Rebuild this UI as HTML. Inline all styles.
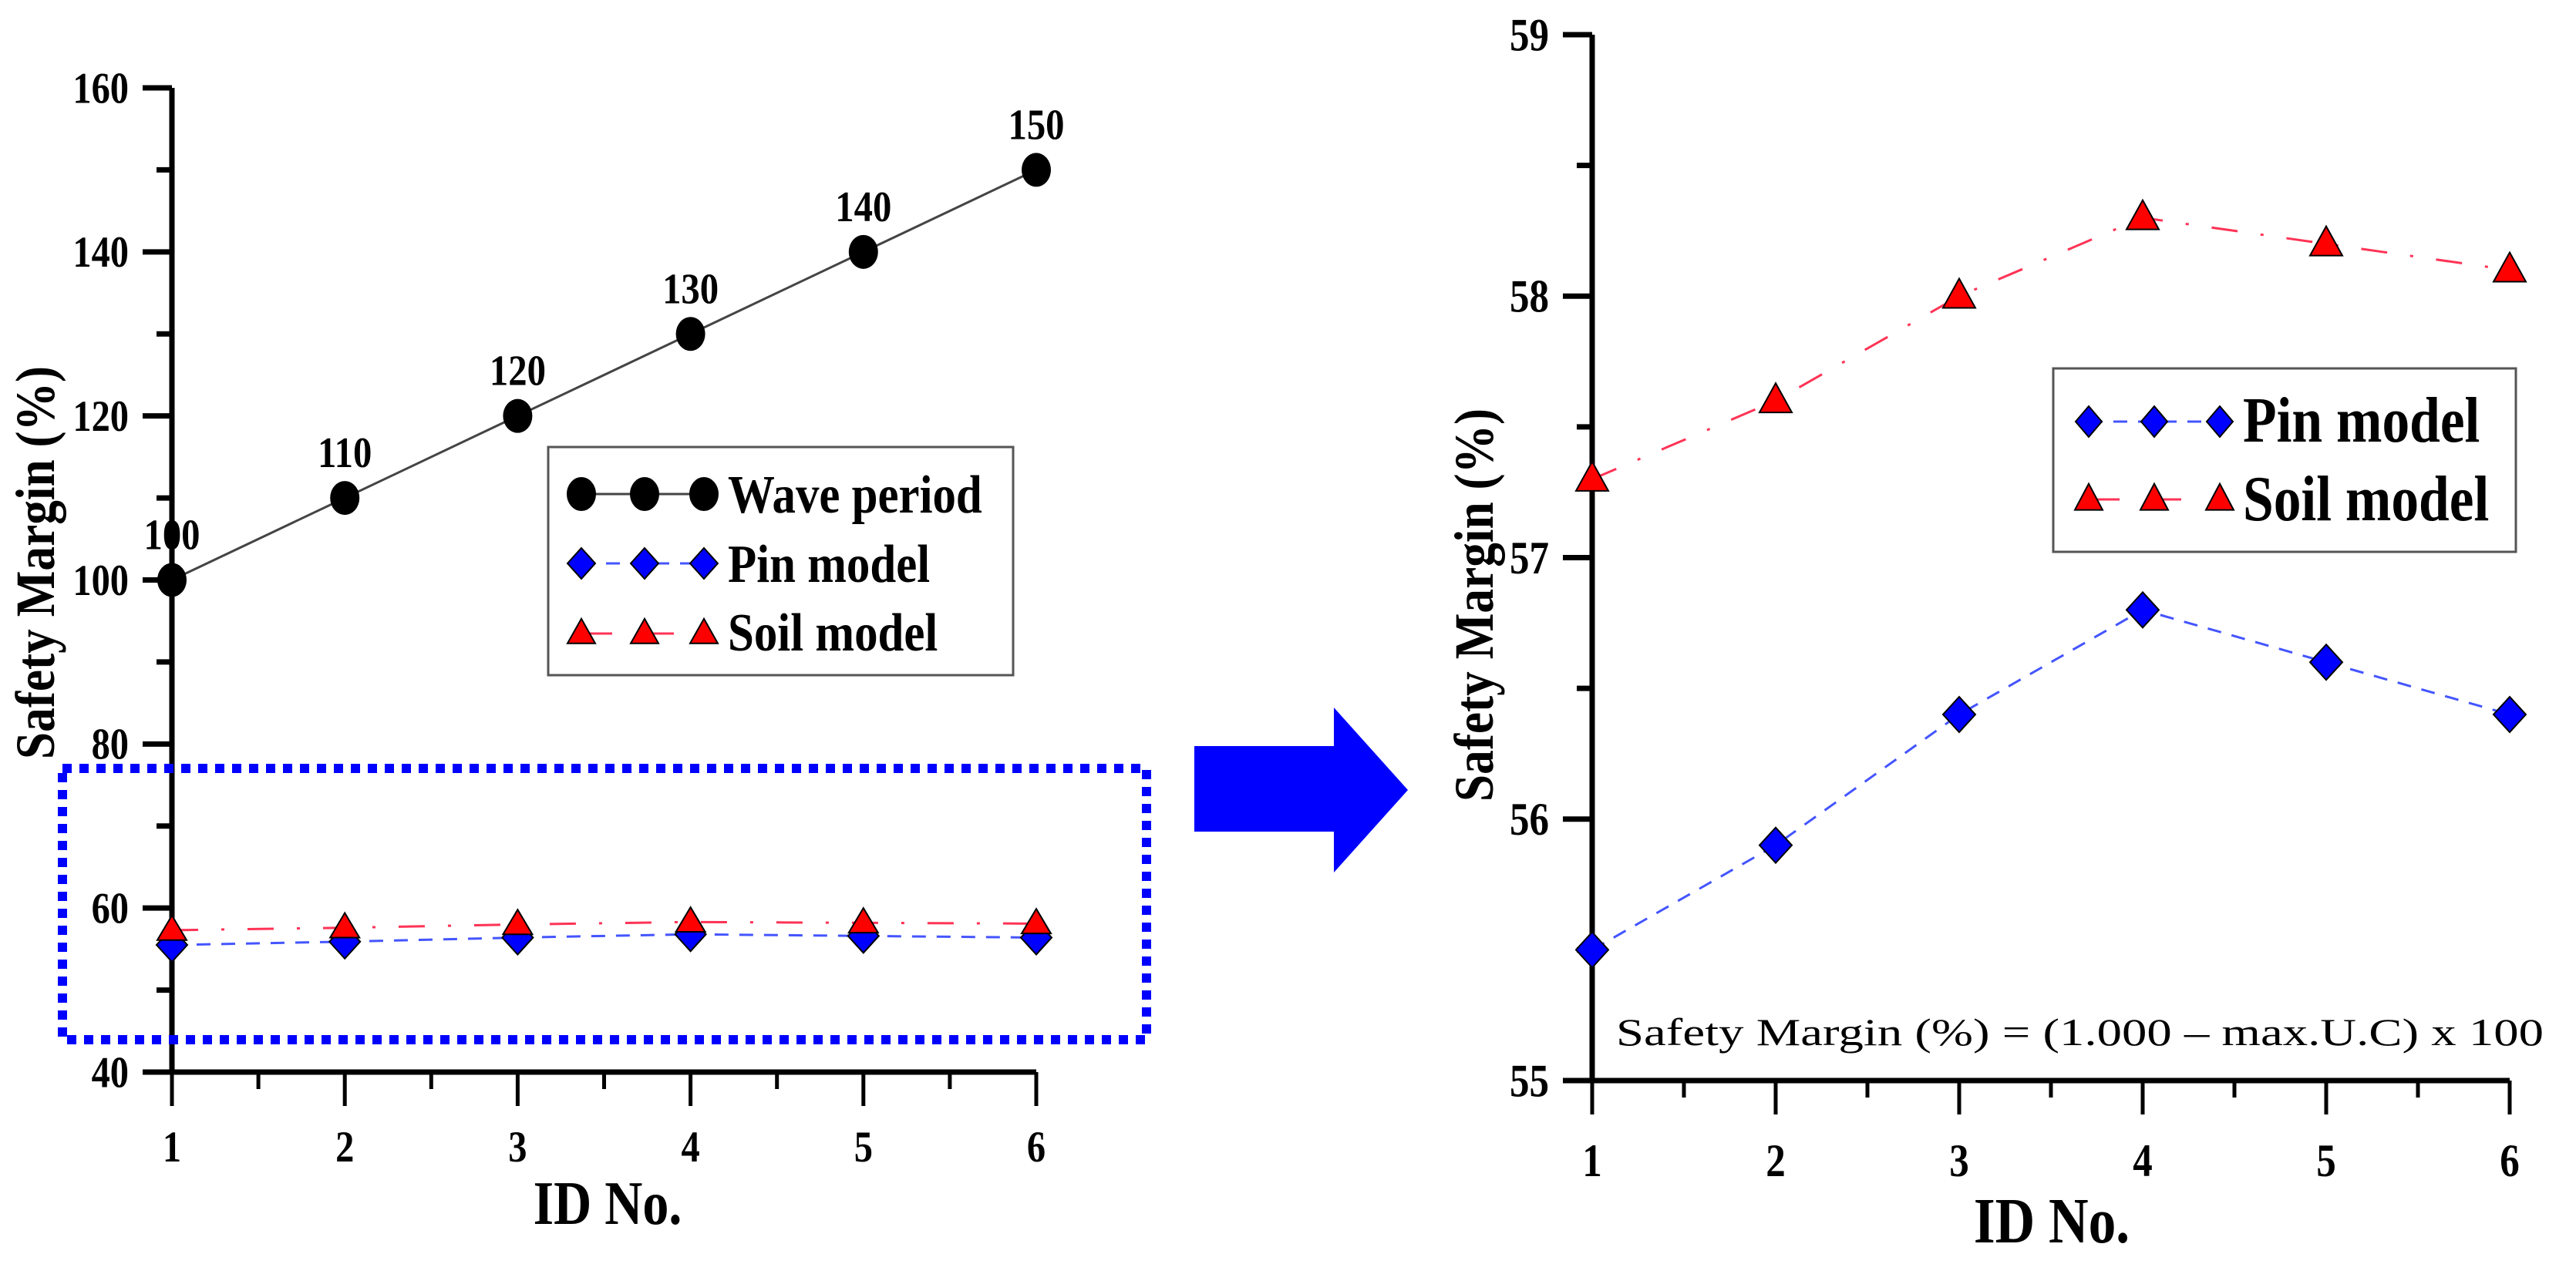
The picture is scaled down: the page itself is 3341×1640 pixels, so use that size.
<!DOCTYPE html>
<html><head><meta charset="utf-8"><style>
html,body{margin:0;padding:0;background:#fff;font-family:"Liberation Serif","Times New Roman",serif;}
svg{display:block;}
svg text{font-family:"Liberation Serif","Times New Roman",serif;}
</style></head><body>
<svg id="svg" width="3341" height="1640" viewBox="0 0 3341 1640" xmlns="http://www.w3.org/2000/svg" font-family="Liberation Serif, serif">
<rect x="0" y="0" width="3341" height="1640" fill="#fff"/>
<g id="left"></g>
<g id="right"></g>
<rect x="81" y="997" width="1406" height="352" fill="none" stroke="#0000ff" stroke-width="12" stroke-dasharray="12 10"/>
<polygon points="1549,968 1730,968 1730,918 1826,1025 1730,1132 1730,1079 1549,1079" fill="#0000ff"/>
</svg>
<script>
const categories = [1, 2, 3, 4, 5, 6];
const waveValues = [100, 110, 120, 130, 140, 150];
const pinValues = [55.5, 55.9, 56.4, 56.8, 56.6, 56.4];
const soilValues = [57.3, 57.6, 58.0, 58.3, 58.2, 58.1];
const leftYTicks = [40, 60, 80, 100, 120, 140, 160];
const rightYTicks = [55, 56, 57, 58, 59];

const NS = "http://www.w3.org/2000/svg";
const FONT = '"Liberation Serif", "Times New Roman", serif';
function mk(parent, tag, attrs){
  const e = document.createElementNS(NS, tag);
  for (const k in attrs) e.setAttribute(k, attrs[k]);
  parent.appendChild(e);
  return e;
}
function txt(parent, x, y, s, size, weight, anchor, sx, name){
  const t = mk(parent, 'text', {transform:`translate(${x},${y}) scale(${sx},1)`, 'font-size':size, 'font-weight':weight, 'text-anchor':anchor, fill:'#000', 'font-family':FONT});
  
  
  t.textContent = s;
  return t;
}
function diamond(p, x, y, hw, hh, name){
  const e = mk(p, 'polygon', {points:`${x},${y-hh} ${x+hw},${y} ${x},${y+hh} ${x-hw},${y}`, fill:'#0000ff', stroke:'#000', 'stroke-width':2});
  
  
}
function tri(p, x, y, hw, h, name){
  const e = mk(p, 'polygon', {points:`${x},${y-h*0.6} ${x+hw},${y+h*0.4} ${x-hw},${y+h*0.4}`, fill:'#ff0000', stroke:'#000', 'stroke-width':2});
  
  
}
function circ(p, x, y, name){
  const e = mk(p, 'ellipse', {cx:x, cy:y, rx:19, ry:22, fill:'#000'});
  
  
}
function polyline(p, xs, ys, stroke, dash, name){
  const pts = xs.map((x,i)=>x+','+ys[i]).join(' ');
  const e = mk(p, 'polyline', {points:pts, fill:'none', stroke:stroke, 'stroke-width':3, 'stroke-dasharray':dash});
  
  
}

function axes(g, cfg){
  const {x0, x1, y0, y1, ymin, ymax, yticks, minorStep, fs} = cfg;
  const X = c => x0 + (c - categories[0]) / (categories[categories.length-1] - categories[0]) * (x1 - x0);
  const Y = v => y0 - (v - ymin) / (ymax - ymin) * (y0 - y1);
  const ax = mk(g, 'path', {d:`M${x0},${y1} L${x0},${y0} L${x1},${y0}`, fill:'none', stroke:'#000', 'stroke-width':7});
  
  
  yticks.forEach(v=>{
    const l = mk(g, 'line', {x1:x0-38, x2:x0, y1:Y(v), y2:Y(v), stroke:'#000', 'stroke-width':7});
    
    
    txt(g, x0-56, Y(v)+fs*0.34, String(v), fs, 'bold', 'end', 0.85, 'y-tick-label');
  });
  for (let v = ymin + minorStep; v < ymax; v += minorStep*2){
    const l = mk(g, 'line', {x1:x0-20, x2:x0, y1:Y(v), y2:Y(v), stroke:'#000', 'stroke-width':7});
    
    
  }
  categories.forEach((c,i)=>{
    const l = mk(g, 'line', {x1:X(c), x2:X(c), y1:y0, y2:y0+44, stroke:'#000', 'stroke-width':5});
    
    
    txt(g, X(c), cfg.xlabY, String(c), fs, 'bold', 'middle', 0.85, 'x-tick-label');
    if (i < categories.length-1){
      const m = mk(g, 'line', {x1:X(c+0.5), x2:X(c+0.5), y1:y0, y2:y0+22, stroke:'#000', 'stroke-width':5});
      
      
    }
  });
  txt(g, cfg.titleX, cfg.titleY, 'ID No.', cfg.tfs, 'bold', 'middle', 0.85, 'x-axis-title');
  const yt = mk(g, 'text', {transform:`translate(${cfg.ylabX},${cfg.ylabY}) rotate(-90) scale(0.88,1)`, 'font-size':72, 'font-weight':'bold', 'text-anchor':'middle', 'font-family':FONT});
  
  
  yt.textContent = 'Safety Margin (%)';
  return {X, Y};
}

const PIN_DASH = '18 14';
const SOIL_DASH = '34 30 4 30';

// LEFT
const L = document.getElementById('left');
const la = axes(L, {x0:223, x1:1344, y0:1391, y1:114, ymin:40, ymax:160, yticks:leftYTicks, minorStep:10, fs:57, xlabY:1507, titleX:788, titleY:1588, tfs:80, ylabX:70, ylabY:730});
polyline(L, categories.map(la.X), waveValues.map(la.Y), '#444', 'none', 'wave-period-line');
polyline(L, categories.map(la.X), soilValues.map(la.Y), '#ff3355', SOIL_DASH, 'soil-model-line');
polyline(L, categories.map(la.X), pinValues.map(la.Y), '#4455ff', PIN_DASH, 'pin-model-line');
categories.forEach((c,i)=>{
  circ(L, la.X(c), la.Y(waveValues[i]), 'wave-point');
  txt(L, la.X(c), la.Y(waveValues[i]) - 40, String(waveValues[i]), 56, 'bold', 'middle', 0.87, 'wave-value-label');
  diamond(L, la.X(c), la.Y(pinValues[i]), 20, 22, 'pin-point');
  tri(L, la.X(c), la.Y(soilValues[i]), 19, 32, 'soil-point');
});
{
  const lg = mk(L, 'g', {});
  
  
  const b = mk(lg, 'rect', {x:711, y:580, width:603, height:296, fill:'#fff', stroke:'#555', 'stroke-width':3});
  
  
  const mx = [754, 836, 913];
  polyline(lg, [754, 913], [641, 641], '#444', 'none', 'legend-wave-line');
  mx.forEach(x=>circ(lg, x, 641, 'legend-wave-marker'));
  polyline(lg, [754, 913], [731, 731], '#4455ff', PIN_DASH, 'legend-pin-line');
  mx.forEach(x=>diamond(lg, x, 731, 18, 20, 'legend-pin-marker'));
  polyline(lg, [754, 913], [822, 822], '#ff3355', '40 40', 'legend-soil-line');
  mx.forEach(x=>tri(lg, x, 822, 18, 32, 'legend-soil-marker'));
  txt(lg, 944, 665, 'Wave period', 70, 'bold', 'start', 0.87, 'legend-entry-wave');
  txt(lg, 944, 755, 'Pin model', 70, 'bold', 'start', 0.87, 'legend-entry-pin');
  txt(lg, 944, 844, 'Soil model', 70, 'bold', 'start', 0.87, 'legend-entry-soil');
}

// RIGHT
const R = document.getElementById('right');
const ra = axes(R, {x0:2065, x1:3255, y0:1402, y1:45, ymin:55, ymax:59, yticks:rightYTicks, minorStep:0.5, fs:60, xlabY:1526, titleX:2661, titleY:1612, tfs:84, ylabX:1936, ylabY:785});
polyline(R, categories.map(ra.X), soilValues.map(ra.Y), '#ff3355', SOIL_DASH, 'soil-model-line');
polyline(R, categories.map(ra.X), pinValues.map(ra.Y), '#4455ff', PIN_DASH, 'pin-model-line');
categories.forEach((c,i)=>{
  diamond(R, ra.X(c), ra.Y(pinValues[i]), 21, 23, 'pin-point');
  tri(R, ra.X(c), ra.Y(soilValues[i]), 21, 38, 'soil-point');
});
{
  const lg = mk(R, 'g', {});
  
  
  const b = mk(lg, 'rect', {x:2663, y:478, width:600, height:238, fill:'#fff', stroke:'#555', 'stroke-width':3});
  
  
  const mx = [2709, 2794, 2879];
  polyline(lg, [2709, 2879], [547, 547], '#4455ff', PIN_DASH, 'legend-pin-line');
  mx.forEach(x=>diamond(lg, x, 547, 17, 20, 'legend-pin-marker'));
  polyline(lg, [2709, 2879], [648, 648], '#ff3355', '40 40', 'legend-soil-line');
  mx.forEach(x=>tri(lg, x, 648, 18, 34, 'legend-soil-marker'));
  txt(lg, 2909, 573, 'Pin model', 84, 'bold', 'start', 0.85, 'legend-entry-pin');
  txt(lg, 2909, 675, 'Soil model', 84, 'bold', 'start', 0.85, 'legend-entry-soil');
}
{
  const t = mk(R, 'text', {x:2096, y:1356, 'font-size':50, textLength:1203, lengthAdjust:'spacingAndGlyphs', fill:'#000', 'font-family':FONT});
  
  
  t.textContent = 'Safety Margin (%) = (1.000 \u2013 max.U.C) x 100';
}
</script>
</body></html>
